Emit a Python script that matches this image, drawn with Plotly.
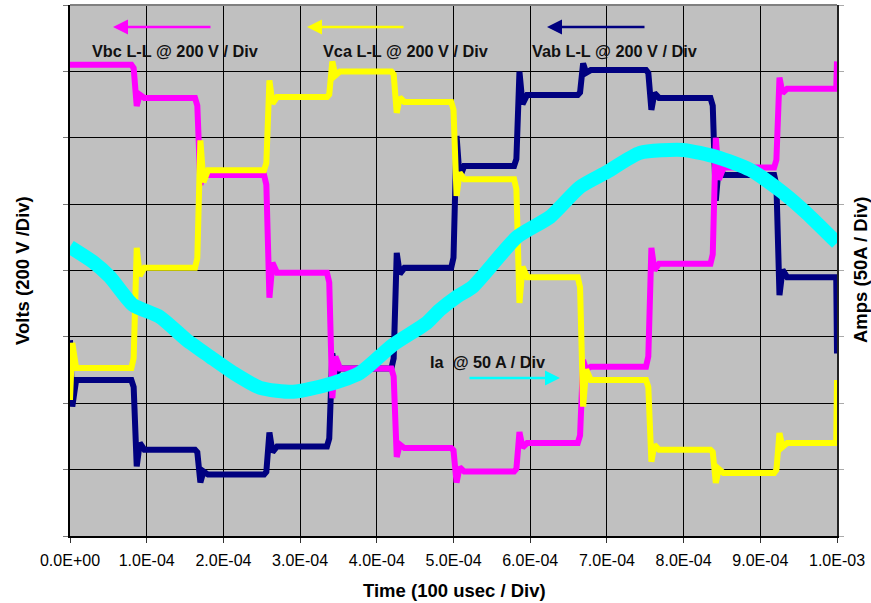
import plotly.graph_objects as go

# ---------------- data ----------------
# switching instants (s)
T_SW = [0.0, 0.83e-4, 1.66e-4, 2.56e-4, 3.38e-4, 4.22e-4, 5.00e-4,
        5.82e-4, 6.65e-4, 7.54e-4, 8.38e-4, 9.21e-4, 1.0e-3]

# line-to-line voltage level in each interval (V)
VBC_LEVELS = [620, 520, 288, -7, -295, -535, -606, -520, -290, 20, 310, 548]
VCA_LEVELS = [-294, 8, 302, 523, 600, 508, 275, -20, -330, -540, -610, -520]
VAB_LEVELS = [-330, -540, -615, -530, -295, 8, 315, 529, 604, 520, 288, -20]

# overshoot after each switching edge (V)
VBC_SPIKE = [24, 30, 75, 90, 27, 33, 33, 20, 48, 90, 33]
VCA_SPIKE = [60, 90, 50, 30, 33, 50, 78, 80, 36, 30, 30]
VAB_SPIKE = [50, 24, 42, 45, 45, 90, 70, 20, 36, 78, 54]

# start / end excursions at the window edges (V)
VCA_START = [-390, -218]
VAB_START = [-210, -410]
VBC_END = 630
VCA_END = -330
VAB_END = -250

# phase current Ia (A)
IA_T = [0.0, 0.30e-4, 0.52e-4, 0.82e-4, 1.17e-4, 1.52e-4, 1.83e-4, 2.13e-4,
        2.48e-4, 2.91e-4, 3.35e-4, 3.78e-4, 4.21e-4, 4.65e-4, 4.82e-4,
        5.04e-4, 5.25e-4, 5.83e-4, 6.26e-4, 6.65e-4, 7.00e-4, 7.43e-4,
        7.99e-4, 8.43e-4, 8.87e-4, 9.30e-4, 9.60e-4, 1.0e-3]
IA_A = [17.8, 6.5, -4.8, -25.9, -34.9, -52.3, -65.1, -77.1,
        -88.4, -91.4, -86.1, -77.1, -56.0, -39.5, -29.7,
        -19.9, -12.3, 25.3, 40.4, 62.9, 74.2, 88.6,
        90.8, 85.5, 75.8, 58.4, 43.4, 20.8]

X_TICKS = [0.0, 1e-4, 2e-4, 3e-4, 4e-4, 5e-4, 6e-4, 7e-4, 8e-4, 9e-4, 1e-3]
X_LABELS = ["0.0E+00", "1.0E-04", "2.0E-04", "3.0E-04", "4.0E-04", "5.0E-04",
            "6.0E-04", "7.0E-04", "8.0E-04", "9.0E-04", "1.0E-03"]


def step_path(levels, spikes, start=None, end=None):
    xs, ys = [], []
    if start:
        xs += [0.0, 0.03e-4, 0.08e-4]
        ys += [start[0], start[1], levels[0]]
    else:
        xs.append(0.0)
        ys.append(levels[0])
    for i in range(1, len(levels)):
        ts = T_SW[i]
        old, new = levels[i - 1], levels[i]
        d = 1 if new > old else -1
        s = spikes[i - 1]
        xs += [ts - 0.03e-4, ts, ts + 0.04e-4, ts + 0.08e-4, ts + 0.14e-4]
        ys += [old, old + (new - old) * 0.1, new + d * s, new - d * s * 0.4, new]
    xs += [T_SW[-1] - 0.01e-4]
    ys += [levels[-1]]
    if end is not None:
        xs.append(T_SW[-1])
        ys.append(end)
    return xs, ys


FONT = "Liberation Sans, Arial, sans-serif"

fig = go.Figure()

for levels, spikes, start, end, color in [
    (VAB_LEVELS, VAB_SPIKE, VAB_START, VAB_END, "#000080"),
    (VBC_LEVELS, VBC_SPIKE, None, VBC_END, "#FF00FF"),
    (VCA_LEVELS, VCA_SPIKE, VCA_START, VCA_END, "#FFFF00"),
]:
    xs, ys = step_path(levels, spikes, start, end)
    fig.add_trace(go.Scatter(x=xs, y=ys, mode="lines",
                             line=dict(color=color, width=6),
                             showlegend=False, hoverinfo="skip"))

fig.add_trace(go.Scatter(x=IA_T, y=IA_A, mode="lines", yaxis="y2",
                         line=dict(color="#00FFFF", width=14, shape="spline", smoothing=0.6),
                         showlegend=False, hoverinfo="skip"))

fig.update_layout(
    width=871, height=603,
    margin=dict(l=70, r=34, t=5, b=67),
    paper_bgcolor="white",
    plot_bgcolor="#C0C0C0",
    font=dict(family=FONT, color="black"),
    xaxis=dict(range=[0, 1e-3], tickvals=X_TICKS, ticktext=X_LABELS,
               tickfont=dict(size=16, family=FONT, color="black"),
               ticks="outside", ticklen=5, tickcolor="#333",
               ticklabelstandoff=4,
               showgrid=True, gridcolor="black", gridwidth=1,
               showline=True, linecolor="black", linewidth=1.5,
               zeroline=False),
    yaxis=dict(range=[-800, 800], dtick=200, showticklabels=False,
               ticks="outside", ticklen=5, tickcolor="#777",
               showgrid=True, gridcolor="black", gridwidth=1,
               showline=True, linecolor="black", linewidth=1.5,
               zeroline=False),
    yaxis2=dict(range=[-200, 200], dtick=50, showticklabels=False,
                overlaying="y", side="right",
                ticks="outside", ticklen=5, tickcolor="#aaa",
                showgrid=False, showline=True, linecolor="#222", linewidth=2,
                zeroline=False),
    shapes=[dict(type="line", xref="paper", yref="paper", x0=0, x1=1, y0=1, y1=1,
                 line=dict(color="#808080", width=2))],
)

PW, PH, L, T = 767.0, 531.0, 70.0, 5.0


def px(x):
    return (x - L) / PW


def py(y):
    return 1 - (y - T) / PH


ann = []
# series labels
for text, x0, y0 in [("Vbc L-L @ 200 V / Div", 90, 51),
                     ("Vca L-L @ 200 V / Div", 321, 51),
                     ("Vab L-L @ 200 V / Div", 530, 51),
                     ("Ia&nbsp;&nbsp;@ 50 A / Div", 428, 362)]:
    ann.append(dict(text="<b>%s</b>" % text, xref="paper", yref="paper",
                    x=px(x0), y=py(y0), xanchor="left", yanchor="middle",
                    showarrow=False, font=dict(size=16.3, family=FONT, color="#111")))
# arrows (tip, tail)
for color, tip, tail in [("#FF00FF", (113, 27), (212, 27)),
                         ("#FFFF00", (307, 27), (405, 27)),
                         ("#000080", (547, 27), (646, 27)),
                         ("#00FFFF", (560, 378), (468, 378))]:
    ann.append(dict(text="", xref="paper", yref="paper",
                    x=px(tip[0]), y=py(tip[1]),
                    axref="pixel", ayref="pixel",
                    ax=tail[0] - tip[0], ay=0,
                    showarrow=True, arrowhead=2, arrowsize=1.2,
                    arrowwidth=2.5, arrowcolor=color))
# axis titles
ann.append(dict(text="<b>Volts (200 V /Div)</b>", xref="paper", yref="paper",
                x=px(22), y=py(270), textangle=-90, showarrow=False,
                xanchor="center", yanchor="middle",
                font=dict(size=18.5, family=FONT, color="black")))
ann.append(dict(text="<b>Amps (50A / Div)</b>", xref="paper", yref="paper",
                x=px(860), y=py(270), textangle=-90, showarrow=False,
                xanchor="center", yanchor="middle",
                font=dict(size=18.5, family=FONT, color="black")))
ann.append(dict(text="<b>Time (100 usec / Div)</b>", xref="paper", yref="paper",
                x=px(454), y=py(590), showarrow=False,
                xanchor="center", yanchor="middle",
                font=dict(size=18.5, family=FONT, color="black")))
fig.update_layout(annotations=ann)

fig.write_html("out.html",
               config={"displayModeBar": False},
               post_script="document.body.style.margin='0';document.body.style.padding='0';")
